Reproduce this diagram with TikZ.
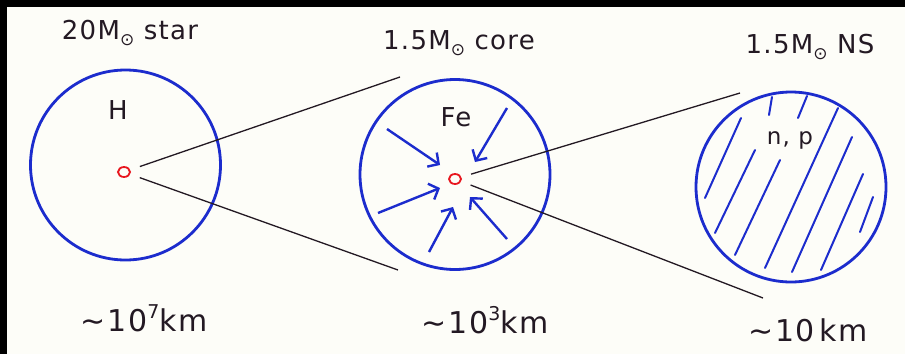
\documentclass[tikz,border=0pt]{standalone}
\usepackage{amsmath}
\usepackage{amssymb}
\usepackage{xcolor}
\usepackage{fontspec}
\setmainfont[LetterSpace=5]{DejaVu Sans}
\usepackage{tikz}
\usetikzlibrary{arrows.meta, shapes.geometric}
\definecolor{penblue}{RGB}{28, 44, 205}
\definecolor{penred}{RGB}{232, 22, 30}
\definecolor{ink}{RGB}{35, 25, 35}
\definecolor{paper}{RGB}{253, 253, 248}
\newcommand{\sunsub}{\raisebox{-6pt}{\fontsize{17}{17}\selectfont ⊙}}
\newcommand{\about}{∼\hspace{2pt}}
\newcommand{\expo}[1]{\raisebox{13pt}{\fontsize{19}{19}\selectfont #1}}
\tikzstyle{shell} = [circle, draw=penblue, line width=2.8pt, minimum size=190pt, inner sep=0pt]
\tikzstyle{centremark} = [ellipse, draw=penred, line width=1.8pt, minimum width=12pt, minimum height=10pt, inner sep=0pt]
\tikzstyle{ray} = [draw=ink, line width=1.3pt, shorten <=10pt]
\tikzstyle{infall} = [-{Straight Barb[length=8pt, width=17pt]}, draw=penblue, line width=2.4pt]
\tikzstyle{hatch} = [draw=penblue, line width=2pt, line cap=round]
\tikzstyle{lbl} = [text=ink, font=\fontsize{26}{30}\selectfont, inner sep=0pt]
\tikzstyle{sizelbl} = [text=ink, font=\fontsize{30}{34}\selectfont, inner sep=0pt]

\begin{document}
\begin{tikzpicture}[x=1pt, y=-1pt]
    % Paper and frame
    \fill[paper] (0,0) rectangle (905,354);
    \fill[black] (0,0) rectangle (905,7);
    \fill[black] (0,0) rectangle (7,354);

    % Shells
    \node[shell] (star) at (125.5,165) {};
    \node[shell] (core) at (455,174.5) {};
    \node[shell] (ns) at (791,187) {};

    % Centres
    \node[centremark] (starmid) at (124,172) {};
    \node[centremark] (coremid) at (455,179) {};

    % Ends of the zoom lines
    \coordinate (coretop) at (400,77);
    \coordinate (corebot) at (398,270);
    \coordinate (nstop) at (740,93);
    \coordinate (nsbot) at (763,298);

    \draw[ray] (starmid) -- (coretop);
    \draw[ray] (starmid) -- (corebot);
    \draw[ray] (coremid) -- (nstop);
    \draw[ray] (coremid) -- (nsbot);

    % Infall arrows
    \foreach \sx/\sy/\ex/\ey in {-68/-50/-15/-14, 52/-71/20/-17, -77/34/-15/9, -26/73/-2/28, 52/60/15/18}
        \draw[infall] ([shift={(\sx,\sy)}]coremid.center) -- ([shift={(\ex,\ey)}]coremid.center);

    % Hatching of the neutron star
    \foreach \sx/\sy/\ex/\ey in {-19/-90/-22/-72, 16/-91/7/-69, -50/-69/-86/11, -36/-37/-76/46, -11/-27/-56/68,
                                 47/-79/-26/81, 61/-50/1/85, 72/-13/30/83, 82/10/69/45}
        \draw[hatch] ([shift={(\sx,\sy)}]ns.center) -- ([shift={(\ex,\ey)}]ns.center);

    % Labels
    \node[lbl] (starname) at (130,33) {20M\sunsub\ star};
    \node[lbl] (corename) at (459,43) {1.5M\sunsub\ core};
    \node[lbl] (nsname) at (810,47) {1.5M\sunsub\ NS};

    \node[lbl] (hyd) at (118,110) {H};
    \node[lbl] (iron) at (456,117) {Fe};
    \node[lbl, font=\fontsize{23}{26}\selectfont] (nucl) at (790,140) {n, p};

    \node[sizelbl] (starsize) at (144,318) {\about 10\expo{7}km};
    \node[sizelbl] (coresize) at (485,320) {\about 10\expo{3}km};
    \node[sizelbl] (nssize) at (808,330) {\about 10\,km};
\end{tikzpicture}
\end{document}
